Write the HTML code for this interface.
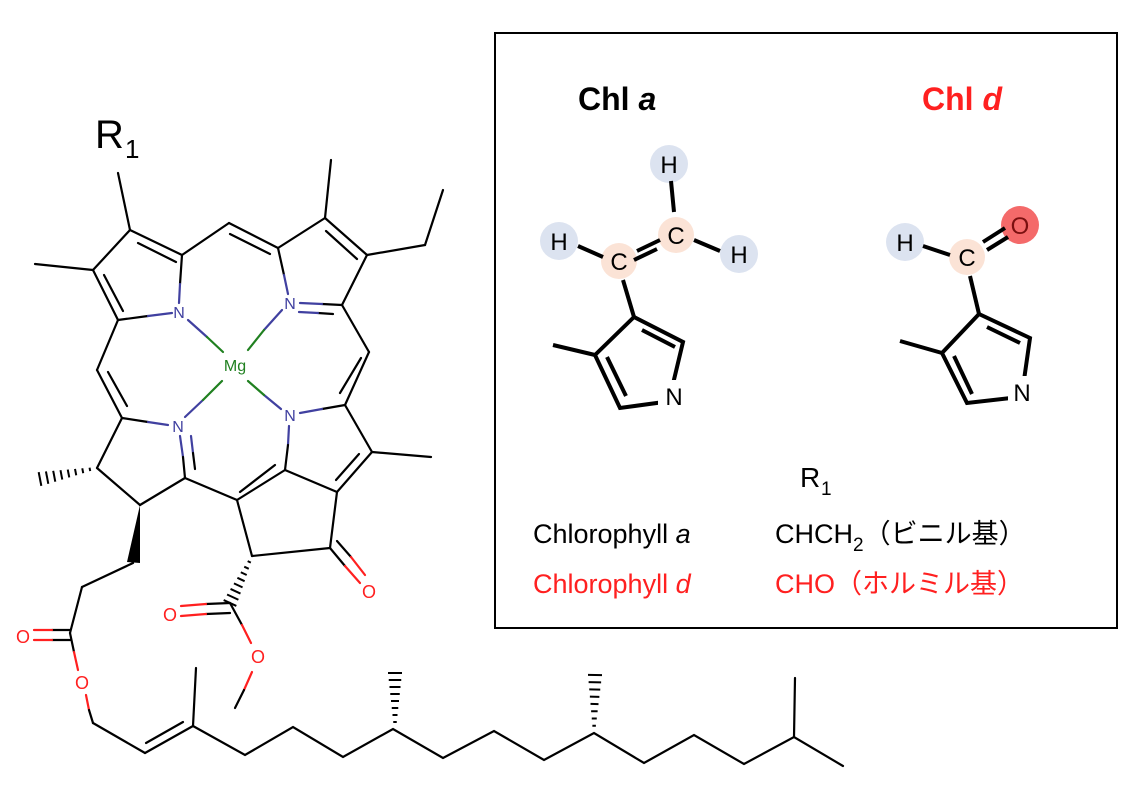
<!DOCTYPE html>
<html><head><meta charset="utf-8"><style>
html,body{margin:0;padding:0;background:#fff;}
svg{display:block;}
text{font-family:"Liberation Sans","Noto Sans CJK JP",sans-serif;}
</style></head><body>
<svg id="s" width="1132" height="795" viewBox="0 0 1132 795" xmlns="http://www.w3.org/2000/svg">
<g stroke="#000" stroke-width="2.2" fill="none" stroke-linecap="round">
<line x1="130" y1="230" x2="182" y2="255"/><line x1="138" y1="243" x2="176" y2="262"/>
<line x1="130" y1="230" x2="93" y2="270"/>
<line x1="93" y1="270" x2="118" y2="320"/><line x1="104" y1="275" x2="123" y2="311"/>
<line x1="130" y1="230" x2="118" y2="173"/><line x1="93" y1="270" x2="35" y2="264"/>
<line x1="118" y1="320" x2="148" y2="316"/><line x1="148" y1="316" x2="172" y2="313" stroke="#4040a0"/>
<line x1="182" y1="255" x2="180" y2="284"/><line x1="180" y1="284" x2="179" y2="303" stroke="#4040a0"/>
<line x1="182" y1="255" x2="229" y2="223"/><line x1="229" y1="223" x2="278" y2="248"/><line x1="230" y1="234" x2="270" y2="254"/>
<line x1="278" y1="248" x2="284" y2="275"/><line x1="284" y1="275" x2="288" y2="294" stroke="#4040a0"/>
<line x1="278" y1="248" x2="325" y2="218"/>
<line x1="325" y1="218" x2="367" y2="255"/><line x1="326" y1="231" x2="357" y2="259"/>
<line x1="367" y1="255" x2="342" y2="305"/>
<line x1="325" y1="218" x2="331" y2="160"/>
<line x1="367" y1="255" x2="425" y2="245"/><line x1="425" y1="245" x2="443" y2="190"/>
<line x1="342" y1="305" x2="322" y2="304"/><line x1="322" y1="304" x2="300" y2="303" stroke="#4040a0"/>
<line x1="333" y1="314" x2="318" y2="313"/><line x1="318" y1="313" x2="299" y2="312" stroke="#4040a0"/>
<line x1="342" y1="305" x2="369" y2="352"/><line x1="369" y1="352" x2="345" y2="405"/><line x1="361" y1="358" x2="340" y2="393"/>
<line x1="345" y1="405" x2="322" y2="409"/><line x1="322" y1="409" x2="300" y2="413" stroke="#4040a0"/>
<line x1="345" y1="405" x2="372" y2="452"/><line x1="372" y1="452" x2="431" y2="457"/>
<line x1="289" y1="426" x2="288" y2="445" stroke="#4040a0"/><line x1="288" y1="445" x2="285" y2="470"/>
<line x1="285" y1="470" x2="337" y2="492"/>
<line x1="337" y1="492" x2="372" y2="452"/><line x1="336" y1="480" x2="359" y2="454"/>
<line x1="188" y1="320" x2="207" y2="337" stroke="#4040a0"/><line x1="207" y1="337" x2="223" y2="352" stroke="#208020"/>
<line x1="282" y1="310" x2="264" y2="330" stroke="#4040a0"/><line x1="264" y1="330" x2="248" y2="350" stroke="#208020"/>
<line x1="281" y1="409" x2="264" y2="395" stroke="#4040a0"/><line x1="264" y1="395" x2="248" y2="381" stroke="#208020"/>
<line x1="185" y1="417" x2="203" y2="400" stroke="#4040a0"/><line x1="203" y1="400" x2="222" y2="381" stroke="#208020"/>
<line x1="118" y1="320" x2="97" y2="370"/><line x1="97" y1="370" x2="122" y2="418"/><line x1="108" y1="372" x2="127" y2="406"/>
<line x1="122" y1="418" x2="148" y2="422"/><line x1="148" y1="422" x2="168" y2="425" stroke="#4040a0"/>
<line x1="180" y1="436" x2="183" y2="457" stroke="#4040a0"/><line x1="183" y1="457" x2="185" y2="478"/>
<line x1="191" y1="436" x2="193" y2="453" stroke="#4040a0"/><line x1="193" y1="453" x2="195" y2="469"/>
<line x1="122" y1="418" x2="97" y2="468"/><line x1="97" y1="468" x2="140" y2="505"/><line x1="140" y1="505" x2="185" y2="478"/>
<line x1="133" y1="563" x2="82" y2="587"/><line x1="82" y1="587" x2="70" y2="633"/>
<line x1="70" y1="630" x2="52" y2="630"/><line x1="52" y1="630" x2="34" y2="630" stroke="#ff2020"/>
<line x1="70" y1="640" x2="52" y2="640"/><line x1="52" y1="640" x2="34" y2="640" stroke="#ff2020"/>
<line x1="70" y1="633" x2="74" y2="652"/><line x1="74" y1="652" x2="78" y2="670" stroke="#ff2020"/>
<line x1="86" y1="695" x2="89" y2="710" stroke="#ff2020"/><line x1="89" y1="710" x2="93" y2="723"/>
<line x1="93" y1="723" x2="145" y2="753"/><line x1="145" y1="753" x2="193" y2="726"/><line x1="146" y1="743" x2="183" y2="722"/>
<line x1="193" y1="726" x2="196" y2="668"/>
<polyline points="193,726 245,755 293,727 343,757 393,729 443,758 494,731 544,760 594,733 644,763 694,735 744,764 794,737 843,766"/>
<line x1="794" y1="737" x2="795" y2="678"/>
<line x1="185" y1="478" x2="237" y2="500"/>
<line x1="237" y1="500" x2="285" y2="470"/><line x1="240" y1="492" x2="275" y2="465"/>
<line x1="237" y1="500" x2="252" y2="556"/><line x1="252" y1="556" x2="330" y2="548"/><line x1="330" y1="548" x2="337" y2="492"/>
<line x1="330" y1="548" x2="345" y2="566"/><line x1="345" y1="566" x2="360" y2="583" stroke="#ff2020"/>
<line x1="337" y1="541" x2="351" y2="557"/><line x1="351" y1="557" x2="365" y2="575" stroke="#ff2020"/>
<line x1="230" y1="603" x2="206" y2="604"/><line x1="206" y1="604" x2="181" y2="606" stroke="#ff2020"/>
<line x1="230" y1="613" x2="206" y2="614"/><line x1="206" y1="614" x2="181" y2="616" stroke="#ff2020"/>
<line x1="230" y1="603" x2="242" y2="625"/><line x1="242" y1="625" x2="251" y2="643" stroke="#ff2020"/>
<line x1="252" y1="672" x2="244" y2="690" stroke="#ff2020"/><line x1="244" y1="690" x2="235" y2="708"/>
</g>
<polygon points="140,505 127,562 140,563" fill="#000"/>
<g id="hashes" stroke="#000" stroke-width="2"></g>
<g font-size="16" text-anchor="middle">
<text x="179" y="318" fill="#4040a0">N</text>
<text x="290" y="309" fill="#4040a0">N</text>
<text x="290" y="421" fill="#4040a0">N</text>
<text x="178" y="432" fill="#4040a0">N</text>
<text x="235" y="371" fill="#208020">Mg</text>
</g>
<g font-size="18" text-anchor="middle" fill="#ff2020">
<text x="23" y="643">O</text><text x="82" y="689">O</text>
<text x="170" y="621">O</text><text x="258" y="663">O</text><text x="369" y="598">O</text>
</g>
<text x="95" y="148" font-size="40">R</text><text x="125" y="158" font-size="26">1</text>

<rect x="495" y="33" width="622" height="595" fill="none" stroke="#000" stroke-width="2"/>
<text x="578" y="110" font-size="32" font-weight="bold">Chl <tspan font-style="italic">a</tspan></text>
<text x="922" y="110" font-size="32" font-weight="bold" fill="#ff2020">Chl <tspan font-style="italic">d</tspan></text>
<g fill="#dce3f0"><circle cx="669" cy="164" r="19"/><circle cx="739" cy="254" r="19"/><circle cx="559" cy="241" r="19"/><circle cx="905" cy="242" r="19"/></g>
<g fill="#fbe3d6"><circle cx="676" cy="235" r="18"/><circle cx="619" cy="261" r="18"/><circle cx="967" cy="257" r="18"/></g>
<circle cx="1020" cy="225" r="19" fill="#f46a6a"/>
<g stroke="#000" stroke-width="4" fill="none">
<line x1="671" y1="181" x2="674" y2="212"/><line x1="694" y1="240" x2="720" y2="251"/><line x1="578" y1="246" x2="603" y2="257"/>
<line x1="637" y1="251" x2="660" y2="240"/><line x1="634" y1="260" x2="657" y2="249"/>
<line x1="623" y1="280" x2="634" y2="317"/>
<polygon points="634,317 683,342 672,388 664,402 620,408 595,355"/>
<line x1="553" y1="345" x2="595" y2="355"/>
<line x1="642" y1="330" x2="675" y2="347"/><line x1="607" y1="357" x2="626" y2="396"/>
<line x1="923" y1="246" x2="950" y2="255"/><line x1="983" y1="242" x2="1005" y2="228"/><line x1="987" y1="250" x2="1008" y2="237"/>
<line x1="970" y1="276" x2="979" y2="314"/>
<polygon points="979,314 1030,338 1024,380 1011,398 967,403 942,353"/>
<line x1="900" y1="341" x2="942" y2="353"/>
<line x1="987" y1="327" x2="1020" y2="343"/><line x1="954" y1="356" x2="972" y2="394"/>
</g>
<rect x="658" y="380" width="30" height="30" fill="#fff"/><rect x="1008" y="376" width="30" height="30" fill="#fff"/>
<g font-size="24" text-anchor="middle">
<text x="669" y="173">H</text><text x="739" y="263">H</text><text x="559" y="250">H</text><text x="905" y="251">H</text>
<text x="676" y="244">C</text><text x="619" y="270">C</text><text x="967" y="266">C</text>
<text x="1020" y="234" fill="#7a1010">O</text>
<text x="674" y="405">N</text><text x="1022" y="401">N</text>
</g>
<text x="800" y="487" font-size="28">R</text><text x="821" y="495" font-size="19">1</text>
<text x="533" y="543" font-size="27">Chlorophyll <tspan font-style="italic">a</tspan></text>
<text x="775" y="543" font-size="27">CHCH<tspan font-size="19" dy="8">2</tspan><tspan dy="-8">（ビニル基）</tspan></text>
<text x="533" y="593" font-size="27" fill="#ff2020">Chlorophyll <tspan font-style="italic">d</tspan></text>
<text x="775" y="593" font-size="27" fill="#ff2020">CHO（ホルミル基）</text>
</svg>
<script>
var g=document.getElementById('hashes');
function hash(x0,y0,x1,y1,w){var dx=x1-x0,dy=y1-y0,L=Math.hypot(dx,dy),px=-dy/L,py=dx/L,n=8;
for(var i=1;i<=n;i++){var t=i/n,cx=x0+dx*t,cy=y0+dy*t,h=1+w*t;
var l=document.createElementNS('http://www.w3.org/2000/svg','line');
l.setAttribute('x1',cx-px*h);l.setAttribute('y1',cy-py*h);l.setAttribute('x2',cx+px*h);l.setAttribute('y2',cy+py*h);g.appendChild(l);}}
hash(97,468,40,479,6);hash(252,556,230,603,6);hash(395,729,395,673,6);hash(594,733,595,675,6);
</script>
</body></html>
